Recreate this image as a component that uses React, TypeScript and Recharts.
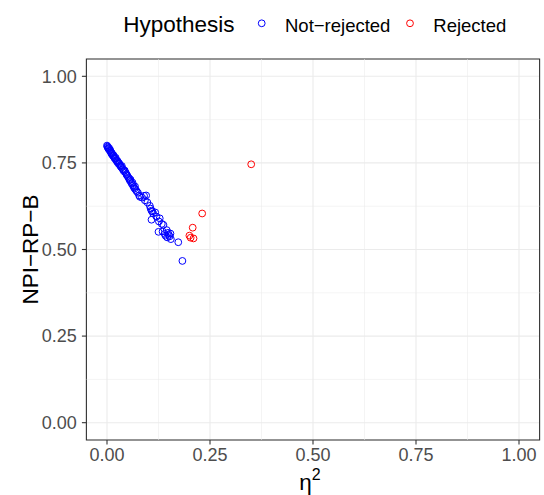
import React from "react";
import {
  ScatterChart,
  Scatter,
  XAxis,
  YAxis,
  CartesianGrid,
  ReferenceLine,
  ReferenceArea,
} from "recharts";

const notRejectedX = [
  0.0, 0.001, 0.002, 0.003, 0.004, 0.005, 0.006, 0.007, 0.008, 0.009, 0.01, 0.011, 0.012, 0.013,
  0.015, 0.016, 0.017, 0.018, 0.02, 0.021, 0.022, 0.024, 0.025, 0.026, 0.028, 0.029, 0.03, 0.032,
  0.033, 0.035, 0.036, 0.038, 0.04, 0.041, 0.043, 0.045, 0.047, 0.048, 0.05, 0.052, 0.054, 0.055,
  0.057, 0.058, 0.06, 0.062, 0.063, 0.065, 0.067, 0.068, 0.07, 0.072, 0.075, 0.078, 0.08, 0.085,
  0.09, 0.095, 0.092, 0.098, 0.104, 0.106, 0.108, 0.11, 0.112, 0.108, 0.117, 0.12, 0.128, 0.126,
  0.133, 0.137, 0.125, 0.135, 0.14, 0.142, 0.145, 0.148, 0.15, 0.152, 0.146, 0.155, 0.154, 0.173,
  0.183,
];
const notRejectedY = [
  0.8, 0.797, 0.795, 0.792, 0.79, 0.793, 0.788, 0.785, 0.787, 0.782, 0.78, 0.776, 0.778, 0.773,
  0.77, 0.772, 0.767, 0.764, 0.762, 0.765, 0.758, 0.756, 0.752, 0.755, 0.75, 0.746, 0.748, 0.743,
  0.74, 0.737, 0.741, 0.732, 0.73, 0.726, 0.728, 0.722, 0.718, 0.715, 0.712, 0.708, 0.704, 0.7,
  0.702, 0.695, 0.69, 0.693, 0.685, 0.68, 0.676, 0.682, 0.672, 0.668, 0.664, 0.656, 0.652, 0.65,
  0.655, 0.656, 0.642, 0.636, 0.626, 0.618, 0.612, 0.61, 0.604, 0.586, 0.607, 0.595, 0.59, 0.581,
  0.574, 0.571, 0.551, 0.552, 0.545, 0.54, 0.556, 0.548, 0.542, 0.538, 0.535, 0.53, 0.546, 0.521,
  0.467,
];
const rejectedX = [0.35, 0.231, 0.208, 0.2, 0.21, 0.203];
const rejectedY = [0.746, 0.604, 0.563, 0.54, 0.532, 0.534];

const ticks = [0, 0.25, 0.5, 0.75, 1];
const minorTicks = [0.125, 0.375, 0.625, 0.875];
const legendLabels = ["Not\u2212rejected", "Rejected"];
const legendTitle = "Hypothesis";
const yTitle = "NPI\u2212RP\u2212B";

const BLUE = "#0000FF";
const RED = "#FF0000";
const FONT = "'Liberation Sans', Arial, sans-serif";

const notRejected = notRejectedX.map((x, i) => ({ x, y: notRejectedY[i] }));
const rejected = rejectedX.map((x, i) => ({ x, y: rejectedY[i] }));

const makeShape = (color: string) => (props: any) => (
  <circle cx={props.cx} cy={props.cy} r={3.4} fill="none" stroke={color} strokeWidth={1} />
);

export default function App() {
  const tickStyle = { fill: "#4D4D4D", fontSize: 18, fontFamily: FONT };
  return (
    <div style={{ position: "absolute", left: 0, top: 0, width: 544, height: 495, background: "#fff" }}>
      <ScatterChart
        width={544}
        height={495}
        margin={{ top: 59, right: 4.4, left: 0, bottom: 0 }}
      >
        <CartesianGrid stroke="#EBEBEB" strokeWidth={1.1} />
        {minorTicks.map((v) => (
          <ReferenceLine key={"mx" + v} x={v} stroke="#EBEBEB" strokeWidth={0.55} />
        ))}
        {minorTicks.map((v) => (
          <ReferenceLine key={"my" + v} y={v} stroke="#EBEBEB" strokeWidth={0.55} />
        ))}
        <XAxis
          type="number"
          dataKey="x"
          domain={[-0.05, 1.05]}
          ticks={ticks}
          tickFormatter={(v: number) => v.toFixed(2)}
          height={55}
          tickSize={4.5}
          tickMargin={3.5}
          axisLine={false}
          tickLine={{ stroke: "#333333", strokeWidth: 1.1 }}
          tick={tickStyle}
          allowDataOverflow
        />
        <YAxis
          type="number"
          dataKey="y"
          domain={[-0.05, 1.05]}
          ticks={ticks}
          tickFormatter={(v: number) => v.toFixed(2)}
          width={86.4}
          tickSize={4.5}
          tickMargin={5}
          axisLine={false}
          tickLine={{ stroke: "#333333", strokeWidth: 1.1 }}
          tick={tickStyle}
          allowDataOverflow
        />
        <ReferenceArea
          x1={-0.05}
          x2={1.05}
          y1={-0.05}
          y2={1.05}
          fill="none"
          fillOpacity={0}
          stroke="#333333"
          strokeWidth={1.1}
        />
        <Scatter data={notRejected} shape={makeShape(BLUE)} isAnimationActive={false} />
        <Scatter data={rejected} shape={makeShape(RED)} isAnimationActive={false} />
      </ScatterChart>
      <svg
        width={544}
        height={495}
        style={{ position: "absolute", left: 0, top: 0, pointerEvents: "none" }}
      >
        <text x={123.3} y={32.3} fontSize={22.5} fontFamily={FONT} fill="#000">
          {legendTitle}
        </text>
        <circle cx={261.7} cy={23.3} r={3.4} fill="none" stroke={BLUE} strokeWidth={1} />
        <text x={285} y={31.7} fontSize={18.5} fontFamily={FONT} fill="#000">
          {legendLabels[0]}
        </text>
        <circle cx={410} cy={23.3} r={3.4} fill="none" stroke={RED} strokeWidth={1} />
        <text x={433.3} y={31.7} fontSize={18.5} fontFamily={FONT} fill="#000">
          {legendLabels[1]}
        </text>
        <text
          x={38}
          y={249.5}
          fontSize={22.5}
          fontFamily={FONT}
          fill="#000"
          textAnchor="middle"
          transform="rotate(-90 38 249.5)"
        >
          {yTitle}
        </text>
        <text x={310} y={490} fontSize={22.5} fontFamily={FONT} fill="#000" textAnchor="middle">
          <tspan>η</tspan>
          <tspan dy={-10} fontSize={16}>2</tspan>
        </text>
      </svg>
    </div>
  );
}
